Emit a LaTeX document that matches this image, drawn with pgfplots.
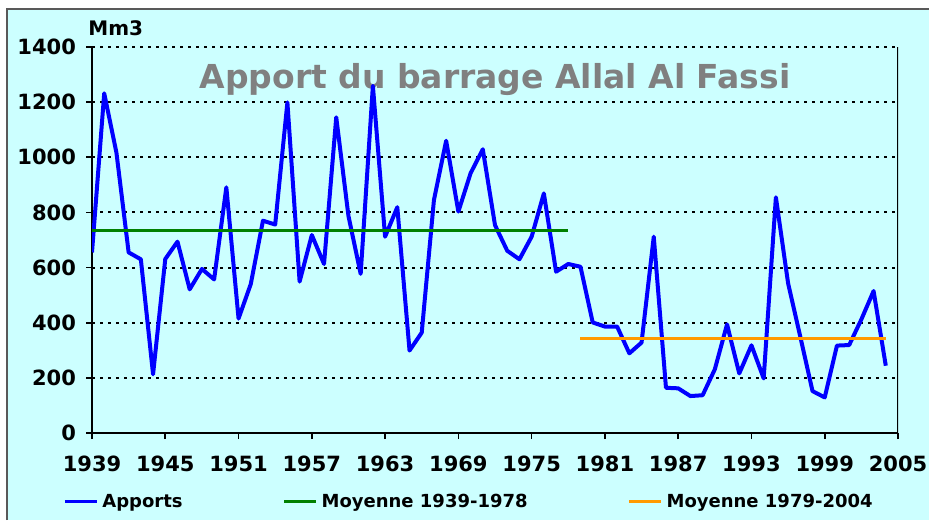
\documentclass[border=0pt]{standalone}
\usepackage{fontspec}
\setmainfont{DejaVu Sans}
\usepackage{pgfplots}
\pgfplotsset{compat=1.18}
\definecolor{bgc}{HTML}{CCFFFF}
\definecolor{titlegray}{HTML}{808080}
\definecolor{lblue}{HTML}{0000FF}
\definecolor{lgreen}{HTML}{008000}
\definecolor{lorange}{HTML}{FF9900}
\begin{document}
\begin{tikzpicture}
\useasboundingbox (0pt,0pt) rectangle (464.5pt,260pt);
\fill[white] (0pt,0pt) rectangle (464.5pt,260pt);
\fill[bgc] (3.5pt,0pt) rectangle (464.5pt,255.5pt);
\draw[black!65, line width=1pt] (3.5pt,0pt) -- (3.5pt,255.5pt) -- (464.5pt,255.5pt);
\node[text=titlegray, font=\fontsize{16.5}{18}\selectfont\bfseries] at (247.5pt,220pt) {Apport du barrage Allal Al Fassi};
\node[anchor=west, inner sep=0pt, font=\fontsize{10}{12}\selectfont\bfseries] at (44pt,246pt) {Mm3};
\begin{axis}[
  at={(46pt,43.5pt)}, anchor=south west,
  scale only axis, width=403pt, height=193pt,
  xmin=1939, xmax=2005, ymin=0, ymax=1400,
  xtick={1939,1945,...,2005}, ytick={0,200,...,1400},
  axis x line*=bottom, axis y line*=left,
  axis line style={line width=1pt, -},
  tick align=outside, major tick length=3pt,
  tick style={black, line width=0.8pt},
  ymajorgrids,
  major grid style={black, line width=1pt, dash pattern=on 1.5pt off 2.5pt},
  /pgf/number format/.cd, 1000 sep={}, assume math mode=true,
  /pgfplots/.cd,
  ticklabel style={font=\fontsize{10.5}{12}\selectfont\bfseries},
  xticklabel style={yshift=-5pt},
  yticklabel style={xshift=-1.5pt},
  legend style={at={(-0.036,-0.1786)}, anchor=west, draw=none, fill=none,
    legend columns=3, inner sep=0pt,
    font=\fontsize{9}{11}\selectfont\bfseries,
    /tikz/every even column/.append style={column sep=48pt}},
  legend image code/.code={\draw[#1,line width=1.5pt] (0pt,0pt) -- (16pt,0pt);},
]
\addplot[lblue, line width=2pt, line join=round] coordinates {
(1939,655) (1940,1232) (1941,1017) (1942,655) (1943,630) (1944,213)
(1945,631) (1946,694) (1947,521) (1948,595) (1949,557) (1950,891)
(1951,415) (1952,540) (1953,770) (1954,756) (1955,1199) (1956,549)
(1957,718) (1958,613) (1959,1145) (1960,787) (1961,577) (1962,1259)
(1963,712) (1964,819) (1965,299) (1966,364) (1967,845) (1968,1060)
(1969,803) (1970,942) (1971,1029) (1972,754) (1973,661) (1974,630)
(1975,712) (1976,869) (1977,585) (1978,613) (1979,603) (1980,401)
(1981,386) (1982,386) (1983,289) (1984,328) (1985,712) (1986,164)
(1987,162) (1988,134) (1989,137) (1990,231) (1991,394) (1992,216)
(1993,318) (1994,198) (1995,855) (1996,543) (1997,349) (1998,152)
(1999,129) (2000,317) (2001,319) (2002,412) (2003,515) (2004,244)
};
\addlegendentry{Apports}
\addplot[lgreen, line width=1.5pt] coordinates {(1939,733) (1978,733)};
\addlegendentry{Moyenne 1939-1978}
\addplot[lorange, line width=1.5pt] coordinates {(1979,342) (2004,342)};
\addlegendentry{Moyenne 1979-2004}
\draw[black, line width=1pt] (rel axis cs:1,0) -- (rel axis cs:1,1);
\end{axis}
\end{tikzpicture}
\end{document}
